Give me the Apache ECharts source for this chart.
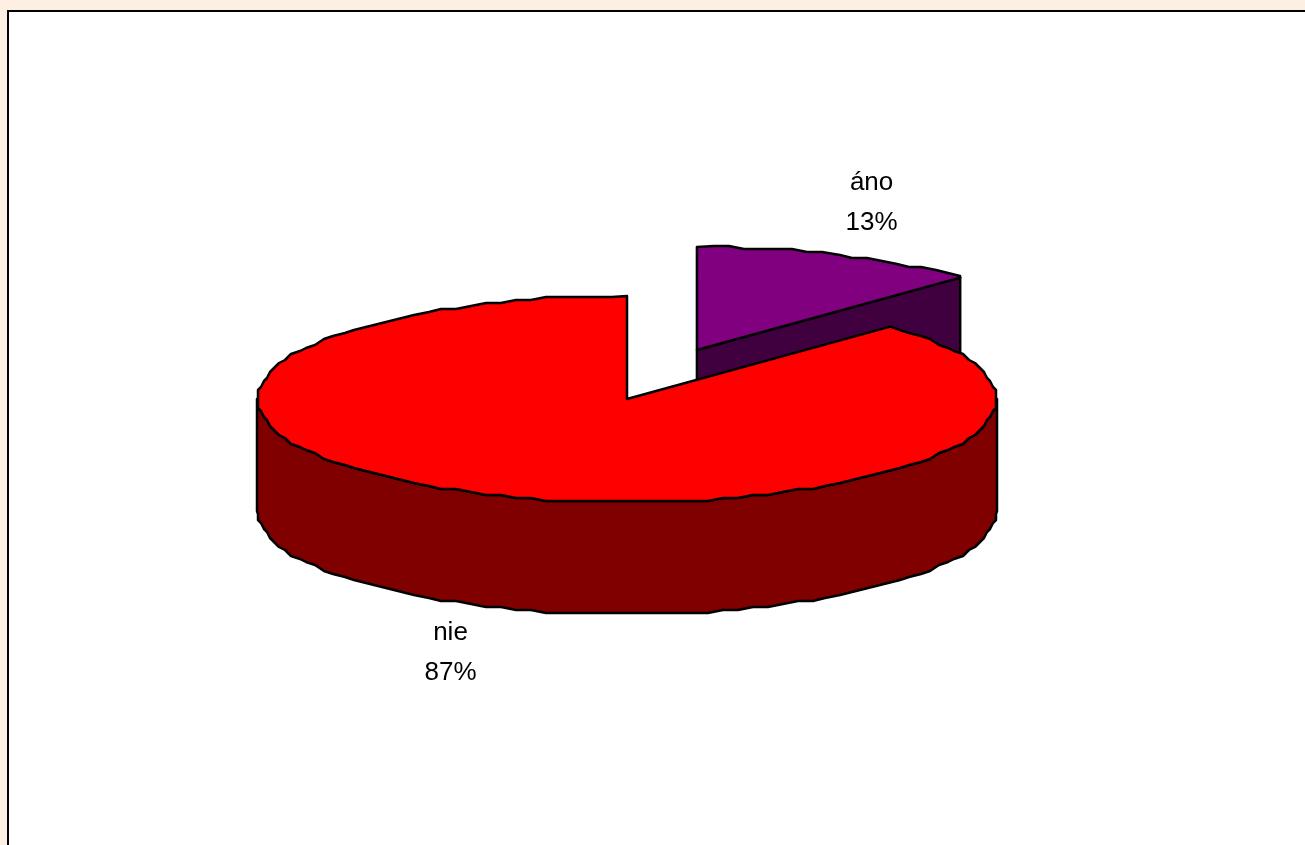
<!DOCTYPE html>
<html>
<head>
<meta charset="utf-8">
<style>html,body{margin:0;padding:0;background:#fdf0e3;overflow:hidden}#c{width:1305px;height:845px}</style>
<script src="https://cdn.jsdelivr.net/npm/echarts@6/dist/echarts.min.js"></script>
</head>
<body>
<div id="c"></div>
<script>
const categories = ['áno', 'nie'];
const values = [12.6, 87.4];
const topColors = ['#800080', '#ff0000'];
const sideColors = ['#400040', '#800000'];

// Layout in unit-circle space (pie radius = 1 on both hidden axes)
const explodeX = [0.189, 0];
const explodeY = [0.476, 0];
const labelX = [0.661, -0.477];
const labelY = [1.9, -2.46];
const depth = 112 / 103;
const total = values.reduce((a, b) => a + b, 0);
const fractions = values.map(v => v / total);

const step = Math.PI / 72;
function snap(p) {
  const g = 3;
  return [Math.round(p[0] / g) * g, Math.round(p[1] / g) * g];
}
// Samples the rim on a fixed angular grid so top face and wall share vertices.
function arc(api, cx, cy, from, to, drop) {
  const angles = [from];
  for (let k = Math.ceil(from / step + 1e-6); k * step < to - 1e-6; k++) angles.push(k * step);
  angles.push(to);
  const dropPx = api.coord([0, 0])[1] - api.coord([0, drop])[1];
  return angles.map((t, i) => {
    const p = api.coord([cx + Math.sin(t), cy + Math.cos(t)]);
    const q = i === 0 || i === angles.length - 1 ? p : snap(p);
    return [q[0], q[1] + Math.abs(dropPx)];
  });
}
function poly(points, fill) {
  return {
    type: 'polygon',
    silent: true,
    shape: { points: points },
    style: { fill: fill, stroke: '#000', lineWidth: 2.5, lineJoin: 'round' }
  };
}
function renderItem(params, api) {
  const i = params.dataIndex;
  const start = fractions.slice(0, i).reduce((a, b) => a + b, 0) * 2 * Math.PI;
  const end = start + fractions[i] * 2 * Math.PI;
  const cx = explodeX[i], cy = explodeY[i];
  const apex = api.coord([cx, cy]);
  const apexLow = api.coord([cx, cy - depth]);
  const children = [];
  if (i === 0) {
    // inner cut face visible for the pulled-out slice
    const a = arc(api, cx, cy, end, end, 0)[0];
    const b = arc(api, cx, cy, end, end, depth)[0];
    children.push(poly([apex, a, b, apexLow], sideColors[i]));
  } else {
    const from = Math.max(start, Math.PI / 2), to = Math.min(end, 3 * Math.PI / 2);
    const upper = arc(api, cx, cy, from, to, 0);
    const lower = arc(api, cx, cy, from, to, depth).reverse();
    children.push(poly(upper.concat(lower), sideColors[i]));
  }
  children.push(poly([apex].concat(arc(api, cx, cy, start, end, 0)), topColors[i]));
  const lp = api.coord([labelX[i], labelY[i]]);
  children.push({
    type: 'text',
    silent: true,
    style: {
      x: lp[0], y: lp[1],
      text: categories[i] + '\n' + Math.round(fractions[i] * 100) + '%',
      font: '26px "Liberation Sans", Arial, sans-serif',
      lineHeight: 40,
      fill: '#000',
      align: 'center',
      verticalAlign: 'middle'
    }
  });
  return { type: 'group', children: children };
}

const chart = echarts.init(document.getElementById('c'), null, { renderer: 'canvas' });
chart.setOption({
  animation: false,
  backgroundColor: '#fdf0e3',
  graphic: [{
    type: 'rect',
    z: -10,
    silent: true,
    shape: { x: 8, y: 11, width: 1400, height: 900 },
    style: { fill: '#fff', stroke: '#000', lineWidth: 2 }
  }],
  grid: { left: 257, width: 740, top: 296, height: 206, containLabel: false },
  xAxis: { type: 'value', min: -1, max: 1, show: false },
  yAxis: { type: 'value', min: -1, max: 1, show: false },
  series: [{
    type: 'custom',
    coordinateSystem: 'cartesian2d',
    clip: false,
    renderItem: renderItem,
    data: values.map((v, i) => [i, v])
  }]
});
</script>
</body>
</html>
